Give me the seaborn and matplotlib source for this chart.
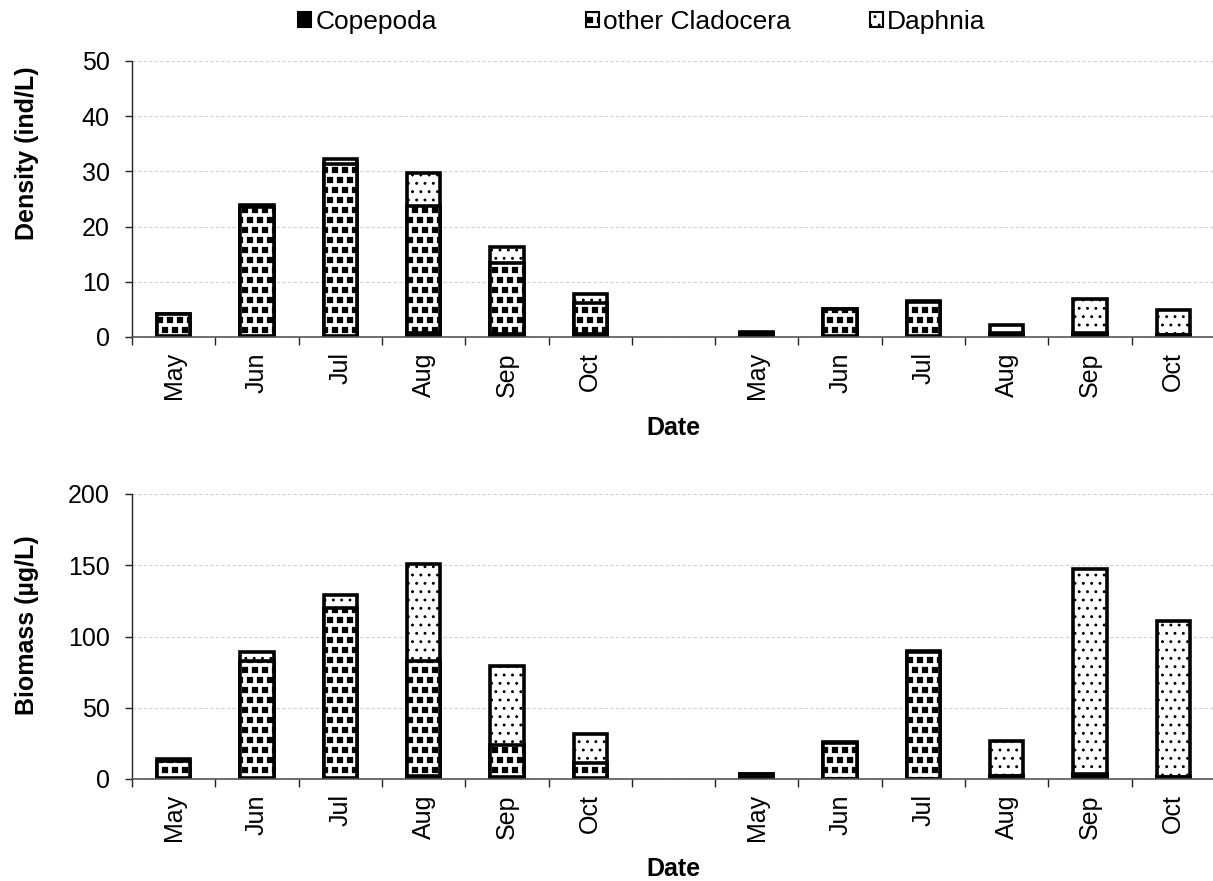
import numpy as np
import pandas as pd
import matplotlib
matplotlib.use("Agg")
import matplotlib.pyplot as plt
import matplotlib.hatch as mhatch
from matplotlib.path import Path
import seaborn as sns

# ---- data -------------------------------------------------------------
months = ["May", "Jun", "Jul", "Aug", "Sep", "Oct"]
sites = ["site 1", "site 2"]

# density (ind/L), site 1 months followed by site 2 months
density_copepoda = [0.1, 0.1, 0.2, 0.7, 0.5, 0.6, 0.3, 0.1, 0.1, 0.6, 0.6, 0.3]
density_cladocera = [4.0, 23.4, 31.1, 23.1, 12.9, 5.5, 0.5, 4.9, 6.3, 0.2, 0.1, 0.1]
density_daphnia = [0.0, 0.4, 0.9, 5.9, 2.9, 1.6, 0.1, 0.1, 0.1, 1.3, 6.1, 4.5]

# biomass (ug/L)
biomass_copepoda = [0.5, 0.5, 0.5, 2.0, 1.5, 1.0, 1.5, 0.3, 0.3, 2.0, 3.0, 1.5]
biomass_cladocera = [12.0, 82.0, 119.5, 81.0, 22.5, 10.5, 1.8, 25.0, 89.0, 0.3, 0.3, 0.2]
biomass_daphnia = [1.5, 6.4, 9.0, 68.0, 55.0, 20.0, 0.4, 0.5, 0.5, 24.5, 144.0, 109.0]

series_names = ["Copepoda", "other Cladocera", "Daphnia"]


# ---- staggered filled-square hatch for the Cladocera fill -------------
class FilledSquares(mhatch.Shapes):
    size = 0.5
    filled = True

    def __init__(self, hatch, density):
        self.num_rows = hatch.count('*') * 5
        self.shape_vertices = np.array([[-0.5, -0.5], [0.5, -0.5], [0.5, 0.5],
                                        [-0.5, 0.5], [-0.5, -0.5]])
        self.shape_codes = np.array([Path.MOVETO, Path.LINETO, Path.LINETO,
                                     Path.LINETO, Path.CLOSEPOLY],
                                    dtype=Path.code_type)
        super().__init__(hatch, density)


mhatch._hatch_types[mhatch._hatch_types.index(mhatch.Stars)] = FilledSquares

# ---- layout of the category axis -------------------------------------
slot_keys = [f"{sites[0]}|{m}" for m in months] + ["gap"] + \
            [f"{sites[1]}|{m}" for m in months]
slot_labels = months + [""] + months
data_keys = [k for k in slot_keys if k != "gap"]


def make_frame(cop, clad, daph):
    cop = np.asarray(cop)
    clad = np.asarray(clad)
    daph = np.asarray(daph)
    return pd.DataFrame({
        "slot": data_keys,
        "cop": cop,
        "cop_clad": cop + clad,
        "total": cop + clad + daph,
    })


sns.set_theme(style="white")
plt.rcParams["font.family"] = ["Liberation Sans", "DejaVu Sans"]
plt.rcParams["text.color"] = "black"
plt.rcParams["axes.labelcolor"] = "black"
plt.rcParams["xtick.color"] = "black"
plt.rcParams["ytick.color"] = "black"
plt.rcParams["hatch.linewidth"] = 0.9
plt.rcParams["hatch.color"] = "black"

fig = plt.figure(figsize=(12.13, 8.81), dpi=100)
ax_top = fig.add_axes([132 / 1213, 1 - 337 / 881, 1083 / 1213, 276 / 881])
ax_bot = fig.add_axes([132 / 1213, 1 - 779 / 881, 1083 / 1213, 285 / 881])

bar_kw = dict(width=0.4, edgecolor="black", linewidth=2.6, saturation=1,
              order=slot_keys, errorbar=None)

layers = [
    ("total", "Daphnia", "white", ".."),
    ("cop_clad", "other Cladocera", "white", "**"),
    ("cop", "Copepoda", "black", None),
]


def draw(ax, frame, ymax, ystep, ylabel, ylab_pos, xlab_y):
    for col, name, color, hatch in layers:
        kw = dict(bar_kw)
        if hatch:
            kw["hatch"] = hatch
        sns.barplot(data=frame, x="slot", y=col, color=color, label=name,
                    ax=ax, **kw)
    ax.set_xlim(-0.5, len(slot_keys) - 0.5)
    ax.set_ylim(0, ymax)
    ax.set_yticks(np.arange(0, ymax + 1, ystep))
    ax.set_xticks(range(len(slot_keys)), slot_labels, rotation=90)
    ax.set_xticks(np.arange(-0.5, len(slot_keys)), minor=True)
    ax.tick_params(axis="x", which="major", length=0, pad=11, labelsize=18,
                   labelcolor="black")
    ax.tick_params(axis="x", which="minor", length=6, width=1, direction="out",
                   color="#222222", bottom=True)
    ax.tick_params(axis="y", which="major", length=5, width=1, direction="out",
                   pad=11, labelsize=18, left=True, color="#222222",
                   labelcolor="black")
    ax.yaxis.grid(True, linestyle=(0, (3, 2)), color="#cfcfcf", linewidth=0.8)
    ax.xaxis.grid(False)
    ax.set_axisbelow(True)
    for side in ("top", "right"):
        ax.spines[side].set_visible(False)
    ax.spines["left"].set_color("#222222")
    ax.spines["bottom"].set_color("#555555")
    ax.spines["left"].set_linewidth(1)
    ax.spines["bottom"].set_linewidth(1.2)
    ax.set_ylabel(ylabel, fontsize=18, fontweight="bold", va="center",
                  color="black")
    ax.yaxis.set_label_coords(-0.097, ylab_pos)
    ax.set_xlabel("Date", fontsize=18, fontweight="bold", va="center",
                  color="black")
    ax.xaxis.set_label_coords(0.5, xlab_y)
    if ax.get_legend() is not None:
        ax.get_legend().remove()


density = make_frame(density_copepoda, density_cladocera, density_daphnia)
biomass = make_frame(biomass_copepoda, biomass_cladocera, biomass_daphnia)

draw(ax_top, density, 50, 10, "Density (ind/L)", 0.667, -0.33)
draw(ax_bot, biomass, 200, 50, "Biomass (\u00b5g/L)", 0.54, -0.316)

# one legend entry per column, each starting at its own spot across the top
handles, labels = ax_top.get_legend_handles_labels()
lookup = dict(zip(labels, handles))
legend_left = [298, 586, 870]
for name, left in zip(series_names, legend_left):
    leg = fig.legend([lookup[name]], [name], loc="center left",
                     bbox_to_anchor=(left / 1213, 1 - 22 / 881),
                     frameon=False, fontsize=19, handlelength=0.5,
                     handleheight=0.5, handletextpad=0.15, borderpad=0,
                     borderaxespad=0)
    for h in leg.legend_handles:
        h.set_linewidth(1.5)

fig.savefig("out.png", dpi=100)
